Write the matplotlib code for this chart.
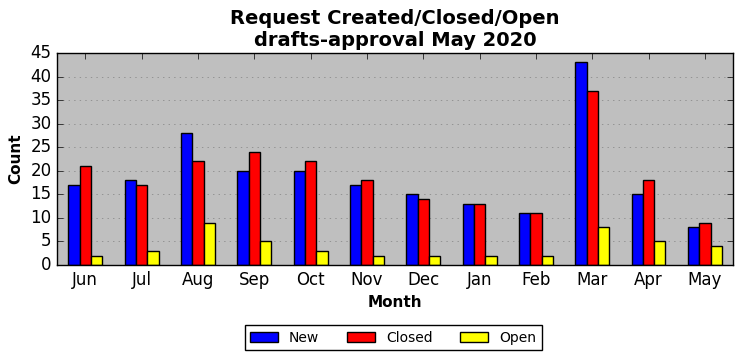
#!/usr/bin/env python3
"""
Bar chart: requests created / closed / open per month.
"""
import matplotlib
matplotlib.use("Agg")
import matplotlib.pyplot as plt
import numpy as np

months = ["Jun", "Jul", "Aug", "Sep", "Oct", "Nov", "Dec", "Jan", "Feb", "Mar", "Apr", "May"]
new = [17, 18, 28, 20, 20, 17, 15, 13, 11, 43, 15, 8]
closed = [21, 17, 22, 24, 22, 18, 14, 13, 11, 37, 18, 9]
open_ = [2, 3, 9, 5, 3, 2, 2, 2, 2, 8, 5, 4]

plt.style.use("classic")
fig = plt.figure(figsize=(7.42, 3.61), dpi=100)
ax = fig.add_axes([0.077, 0.266, 0.911, 0.587])
ax.set_facecolor("#bfbfbf")

x = np.arange(len(months))
w = 0.2
ax.bar(x - w, new, w, align="center", color="blue", edgecolor="black", label="New")
ax.bar(x, closed, w, align="center", color="red", edgecolor="black", label="Closed")
ax.bar(x + w, open_, w, align="center", color="yellow", edgecolor="black", label="Open")

ax.set_xlim(-0.5, len(months) - 0.5)
ax.set_ylim(0, 45)
ax.set_yticks(range(0, 46, 5))
ax.set_xticks(x)
ax.set_xticklabels(months)
ax.tick_params(labelsize=12)
ax.yaxis.grid(True, linestyle=":", color="#808080")
ax.set_axisbelow(True)

ax.set_xlabel("Month", fontweight="bold", fontsize=11)
ax.set_ylabel("Count", fontweight="bold", fontsize=11)
ax.set_title("Request Created/Closed/Open\ndrafts-approval May 2020", fontweight="bold", fontsize=14)

fig.legend(loc="lower center", ncol=3, fontsize=10, bbox_to_anchor=(0.53, 0.01),
           handlelength=2.0, columnspacing=2.0)

fig.savefig("out.png", dpi=100)
plt.close(fig)
